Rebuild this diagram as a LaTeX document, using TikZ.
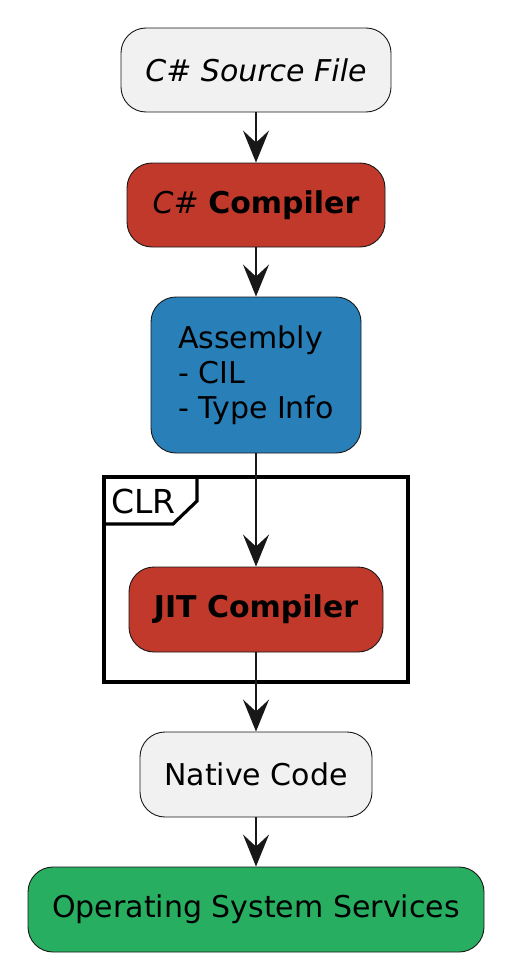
\documentclass[tikz,border=0pt]{standalone}
\usepackage{fontspec}
\setmainfont{DejaVu Sans}
\usetikzlibrary{arrows.meta}
\definecolor{lightbg}{HTML}{F1F1F1}
\definecolor{redbox}{HTML}{C0392B}
\definecolor{bluebox}{HTML}{2980B9}
\definecolor{greenbox}{HTML}{27AE60}
\definecolor{lineclr}{HTML}{181818}
\tikzset{
  act/.style={draw=lineclr, line width=0.9pt, rounded corners=25pt, inner sep=0pt,
    font=\fontsize{30pt}{35pt}\selectfont, text=black},
  flow/.style={draw=lineclr, line width=2pt, -{Stealth[length=32pt,width=26pt,inset=12pt]}},
}
\begin{document}
\begin{tikzpicture}[x=1pt,y=-1pt]
\useasboundingbox (0,0) rectangle (509,977);
\fill[white] (0,0) rectangle (509,977);
% frame
\draw[line width=3.2pt] (104,477) rectangle (408,682);
\draw[line width=3.2pt] (104,524) -- (173,524) -- (197,501) -- (197,477);
\node[anchor=west, inner sep=0pt, font=\fontsize{33pt}{38pt}\selectfont] (clr) at (111,501) {CLR};
% nodes
\node[act, fill=lightbg, minimum width=270pt, minimum height=84pt] (src) at (256,70) {\itshape C\# Source File};
\node[act, fill=redbox, minimum width=258pt, minimum height=84pt] (csc) at (256,205) {\itshape C\# \upshape\bfseries Compiler};
\node[act, fill=bluebox, minimum width=210pt, minimum height=156pt, align=left] (asm) at (256,375) {Assembly\\- CIL\\- Type Info};
\node[act, fill=redbox, minimum width=254pt, minimum height=85pt] (jit) at (256,609.5) {\bfseries JIT Compiler};
\node[act, fill=lightbg, minimum width=232pt, minimum height=85pt] (nat) at (256,774.5) {Native Code};
\node[act, fill=greenbox, minimum width=456pt, minimum height=85pt] (os) at (256,909.5) {Operating System Services};
% connectors
\draw[flow] (src) -- (csc);
\draw[flow] (csc) -- (asm);
\draw[flow] (asm) -- (jit);
\draw[flow] (jit) -- (nat);
\draw[flow] (nat) -- (os);
\end{tikzpicture}
\end{document}
